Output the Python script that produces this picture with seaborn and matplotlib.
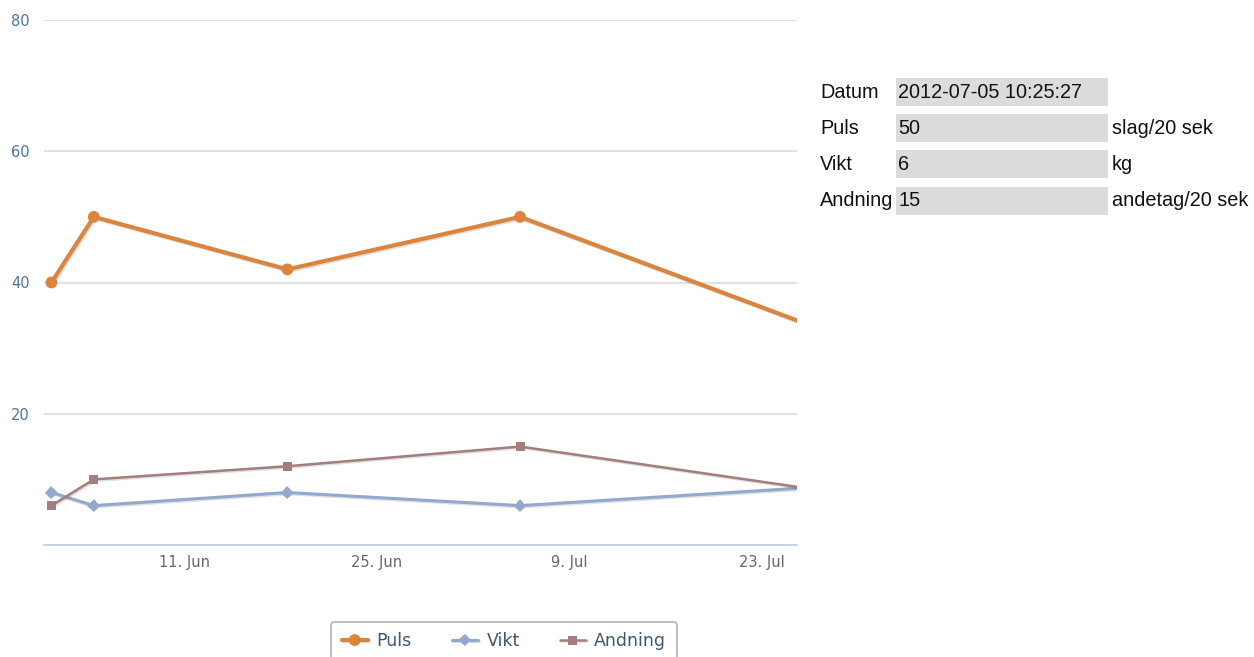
import pandas as pd
import matplotlib
matplotlib.use("Agg")
import matplotlib.pyplot as plt
import matplotlib.patheffects as pe
from matplotlib.patches import Rectangle
import seaborn as sns

# Data
DATES = ["2012-06-01 08:00", "2012-06-04 10:00", "2012-06-18 12:00",
         "2012-07-05 10:25", "2012-07-28 10:00"]
PULS = [40, 50, 42, 50, 32]
VIKT = [8, 6, 8, 6, 9]
ANDNING = [6, 10, 12, 15, 8]

X_TICKS = ["2012-06-11", "2012-06-25", "2012-07-09", "2012-07-23"]
Y_TICKS = [20, 40, 60, 80]
X_RANGE = ["2012-05-31 19:00", "2012-07-25 14:00"]

# Side table (latest selected point)
TABLE_LABELS = ["Datum", "Puls", "Vikt", "Andning"]
TABLE_VALUES = ["2012-07-05 10:25:27", "50", "6", "15"]
TABLE_UNITS = ["", "slag/20 sek", "kg", "andetag/20 sek"]

SERIES = [
    ("Puls", PULS, "#DB843D", "o", 3.0, 8.5),
    ("Vikt", VIKT, "#92A8CD", "D", 2.2, 6.5),
    ("Andning", ANDNING, "#A47D7C", "s", 1.8, 6.5),
]


def main():
    sns.set_style("white")
    plt.rcParams["font.family"] = ["DejaVu Sans"]

    fig = plt.figure(figsize=(12.54, 6.57), dpi=100)
    ax = fig.add_axes([44 / 1254, 1 - 545 / 657, (797 - 44) / 1254, (545 - 20) / 657])

    dates = pd.to_datetime(DATES)
    shadow = [pe.SimpleLineShadow(offset=(1, -1), alpha=0.12, shadow_color="black"),
              pe.Normal()]
    for name, vals, color, marker, lw, ms in SERIES:
        sns.lineplot(x=dates, y=vals, ax=ax, color=color, marker=marker,
                     markersize=ms, markeredgewidth=0, linewidth=lw,
                     label=name, path_effects=shadow)

    ax.set_xlim(pd.to_datetime(X_RANGE))
    ax.set_ylim(0, 80)

    # grid lines for y
    for y in Y_TICKS:
        ax.axhline(y, color="#D8D8D8", lw=1.1, zorder=0)

    xt = pd.to_datetime(X_TICKS)
    ax.set_xticks(xt)
    ax.set_xticklabels([f"{d.day}. {d.strftime('%b')}" for d in xt])
    ax.set_yticks(Y_TICKS)
    ax.set_yticklabels([str(v) for v in Y_TICKS])
    ax.tick_params(axis="x", colors="#C0D0E0", length=6, width=1, pad=1,
                   labelcolor="#666666", labelsize=10.5)
    ax.tick_params(axis="y", length=0, pad=10, labelcolor="#4D759E", labelsize=10.5)
    ax.set_xlabel("")
    ax.set_ylabel("")
    for s in ["top", "right", "left"]:
        ax.spines[s].set_visible(False)
    ax.spines["bottom"].set_color("#C0D0E0")
    ax.spines["bottom"].set_linewidth(1.3)

    handles, labels = ax.get_legend_handles_labels()
    ax.get_legend().remove()
    leg = fig.legend(handles, labels, loc="upper center", ncol=3,
                     bbox_to_anchor=(504 / 1254, 1 - 613 / 657),
                     frameon=True, fontsize=12.5, handlelength=1.5,
                     handletextpad=0.5, columnspacing=2.3, borderpad=0.6,
                     fancybox=True)
    leg.get_frame().set_edgecolor("#A0A0A0")
    leg.get_frame().set_linewidth(1.2)
    for t in leg.get_texts():
        t.set_color("#3E576F")

    # side table
    row_tops = [78, 114, 150, 187]
    box_h = 28
    for i, lab in enumerate(TABLE_LABELS):
        top = row_tops[i]
        yc = 1 - (top + box_h / 2) / 657
        fig.patches.append(Rectangle((896 / 1254, 1 - (top + box_h) / 657),
                                     (1108 - 896) / 1254, box_h / 657,
                                     transform=fig.transFigure,
                                     facecolor="#DCDCDC", edgecolor="none"))
        fig.text(820 / 1254, yc, lab, ha="left", va="center", fontsize=14.3,
                 family="Liberation Sans", color="#111111")
        fig.text(898 / 1254, yc, TABLE_VALUES[i], ha="left", va="center",
                 fontsize=14.3, family="Liberation Sans", color="#111111")
        if TABLE_UNITS[i]:
            fig.text(1112 / 1254, yc, TABLE_UNITS[i], ha="left", va="center",
                     fontsize=14.3, family="Liberation Sans", color="#111111")

    fig.savefig("out.png", dpi=100)
    plt.close(fig)


if __name__ == "__main__":
    main()
